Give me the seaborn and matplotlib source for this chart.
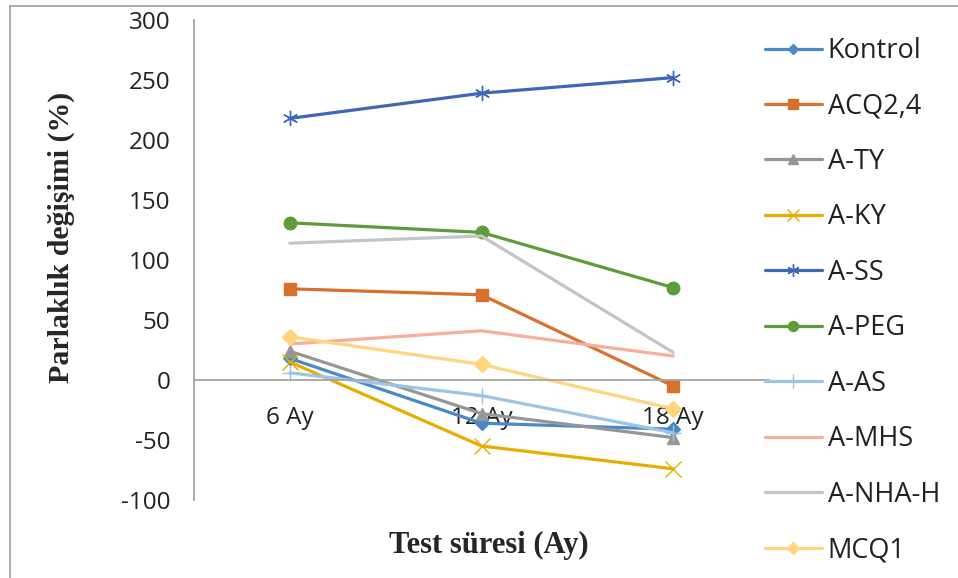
import matplotlib
matplotlib.use("Agg")
import matplotlib.pyplot as plt
import seaborn as sns
import pandas as pd
from matplotlib.lines import Line2D

categories = ["6 Ay", "12 Ay", "18 Ay"]
series_names = ["Kontrol", "ACQ2,4", "A-TY", "A-KY", "A-SS", "A-PEG",
                "A-AS", "A-MHS", "A-NHA-H", "MCQ1"]
kontrol = [18, -36, -41]
acq24 = [76, 71, -5]
a_ty = [24, -28, -48]
a_ky = [15, -55, -74]
a_ss = [218, 239, 252]
a_peg = [131, 123, 77]
a_as = [6, -13, -44]
a_mhs = [30, 41, 20]
a_nha_h = [114, 120, 23]
mcq1 = [36, 13, -24]
y_ticks = [-100, -50, 0, 50, 100, 150, 200, 250, 300]

values = [kontrol, acq24, a_ty, a_ky, a_ss, a_peg, a_as, a_mhs, a_nha_h, mcq1]
rows = []
for name, vals in zip(series_names, values):
    for c, v in zip(categories, vals):
        rows.append({"Test": c, "Seri": name, "Deger": v})
df = pd.DataFrame(rows)

colors = ["#4A89C8", "#D8702E", "#969696", "#E5AE00", "#3F67B6", "#5E9B3A",
          "#9DC3E6", "#F4B09A", "#C4C4C4", "#FFD580"]
markers = ["D", "s", "^", "x", (6, 2, 0), "o", "+", None, None, "D"]
msizes = [7, 9, 9, 11, 11, 9, 12, 0, 0, 8]
mew = [1, 1, 1, 1, 1, 1, 1, 1, 1, 1]

sns.set_style("white")
plt.rcParams["font.family"] = ["Open Sans", "DejaVu Sans"]

fig = plt.figure(figsize=(9.58, 5.78), dpi=100)
ax = fig.add_axes([194 / 958, 1 - 500 / 578, (769 - 194) / 958, 480 / 578])

for i, name in enumerate(series_names):
    sub = df[df["Seri"] == name]
    sns.lineplot(data=sub, x="Test", y="Deger", ax=ax, color=colors[i],
                 linewidth=2.3, marker=markers[i] if markers[i] is not None else None,
                 markersize=msizes[i], markeredgewidth=mew[i],
                 markeredgecolor=colors[i], sort=False, label=name, legend=False)

ax.set_xlim(-0.5, 2.5)
ax.set_ylim(-100, 300)
ax.set_yticks(y_ticks)
ax.set_yticklabels([str(t) for t in y_ticks])
ax.set_xticks(range(len(categories)))
ax.set_xticklabels(categories)
ax.tick_params(axis="y", length=0, pad=17, labelsize=17.5, labelcolor="#222222")
ax.tick_params(axis="x", length=0, pad=19, labelsize=17.5, labelcolor="#222222")
for s in ["top", "right"]:
    ax.spines[s].set_visible(False)
ax.spines["left"].set_color("#A6A6A6")
ax.spines["left"].set_linewidth(1.3)
ax.spines["bottom"].set_position(("data", 0))
ax.spines["bottom"].set_color("#A6A6A6")
ax.spines["bottom"].set_linewidth(1.3)
ax.set_xlabel("")
ax.set_ylabel("")
ax.grid(False)
ax.set_facecolor("none")

fig.text(489 / 958, 1 - 545 / 578, "Test süresi (Ay)", ha="center", va="center",
         fontsize=22, fontweight="bold", family="Liberation Serif")
fig.text(61 / 958, 1 - 237 / 578, "Parlaklık değişimi (%)", ha="center", va="center",
         rotation=90, fontsize=21.5, fontweight="bold", family="Liberation Serif")

handles = []
for i, name in enumerate(series_names):
    handles.append(Line2D([0], [0], color=colors[i], linewidth=2.3,
                          marker=markers[i] if markers[i] is not None else None,
                          markersize=msizes[i] * 0.8, markeredgewidth=mew[i],
                          markeredgecolor=colors[i]))
leg = fig.legend(handles, series_names, loc="upper left",
                 bbox_to_anchor=(765 / 958, 1 - 37 / 578), frameon=False,
                 fontsize=19.5, handlelength=2.1, handletextpad=0.22,
                 labelspacing=1.015, borderaxespad=0, borderpad=0)
for t in leg.get_texts():
    t.set_color("#222222")

# outer border (top and left only visible)
fig.add_artist(Line2D([10 / 958, 1], [1 - 6 / 578, 1 - 6 / 578], color="#A0A0A0",
                      linewidth=1.2, transform=fig.transFigure))
fig.add_artist(Line2D([10 / 958, 10 / 958], [0, 1 - 6 / 578], color="#A0A0A0",
                      linewidth=1.2, transform=fig.transFigure))

fig.savefig("out.png", dpi=100)
